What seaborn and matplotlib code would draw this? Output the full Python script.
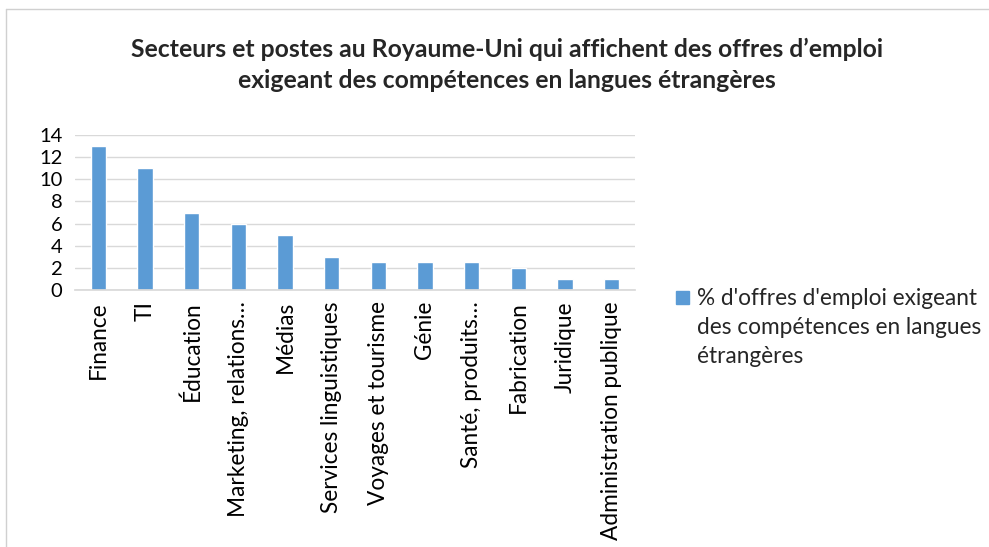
#!/usr/bin/env python3
# -*- coding: utf-8 -*-

"""
Bar chart: UK sectors with job offers requiring foreign language skills.
"""

import matplotlib
matplotlib.use("Agg")
import matplotlib.pyplot as plt
from matplotlib.lines import Line2D
from matplotlib.patches import Rectangle
import seaborn as sns

# Data
categories = ["Finance", "TI", "Éducation", "Marketing, relations…", "Médias",
              "Services linguistiques", "Voyages et tourisme", "Génie",
              "Santé, produits…", "Fabrication", "Juridique",
              "Administration publique"]
values = [13, 11, 7, 6, 5, 3, 2.5, 2.5, 2.5, 2, 1, 1]
yticks = [0, 2, 4, 6, 8, 10, 12, 14]
series_label = "% d'offres d'emploi exigeant\ndes compétences en langues\nétrangères"
title = ("Secteurs et postes au Royaume-Uni qui affichent des offres d’emploi\n"
         "exigeant des compétences en langues étrangères")

BAR_COLOR = "#5b9bd5"


def main():
    sns.set_theme(style="white")
    plt.rcParams['font.family'] = ['Lato', 'DejaVu Sans']

    W, H = 989, 547
    fig = plt.figure(figsize=(W / 100, H / 100), dpi=100)
    ax = fig.add_axes([75 / W, 1 - 290 / H, 560 / W, 155 / H])

    sns.barplot(x=categories, y=values, color=BAR_COLOR, width=0.33,
                saturation=1, ax=ax)

    ax.set_ylim(0, 14)
    ax.set_yticks(yticks)
    ax.set_yticklabels([str(t) for t in yticks], fontsize=14.5)
    ax.set_xticks(range(len(categories)))
    ax.set_xticklabels(categories, rotation=90, fontsize=16.3)
    ax.tick_params(axis="y", length=0, pad=9, colors="black")
    ax.tick_params(axis="x", length=0, pad=8, colors="black")
    ax.set_xlim(-0.5, len(categories) - 0.5)
    ax.yaxis.grid(True, color="#d9d9d9", linewidth=1)
    ax.set_axisbelow(True)
    for side in ["left", "right", "top"]:
        ax.spines[side].set_visible(False)
    ax.spines["bottom"].set_color("#d9d9d9")
    ax.set_xlabel("")
    ax.set_ylabel("")

    fig.text(507 / W, 1 - 65 / H, title, ha="center", va="center",
             fontsize=17.8, fontweight="bold", linespacing=1.4)

    # legend: square aligned with the first line of a wrapped label
    fig.add_artist(Rectangle((676 / W, 1 - 304 / H), 13 / W, 13 / H,
                             transform=fig.transFigure, color=BAR_COLOR))
    for i, line in enumerate(series_label.split("\n")):
        fig.text(697 / W, 1 - (305 + 29 * i) / H, line, ha="left",
                 va="baseline", fontsize=16.3)

    # chart frame (cut off at the right and bottom)
    fig.add_artist(Line2D([6 / W, 1], [1 - 9 / H, 1 - 9 / H],
                          transform=fig.transFigure, color="#d0d0d0", lw=1))
    fig.add_artist(Line2D([6 / W, 6 / W], [0, 1 - 9 / H],
                          transform=fig.transFigure, color="#d0d0d0", lw=1))

    fig.savefig("out.png", dpi=100)


if __name__ == "__main__":
    main()
